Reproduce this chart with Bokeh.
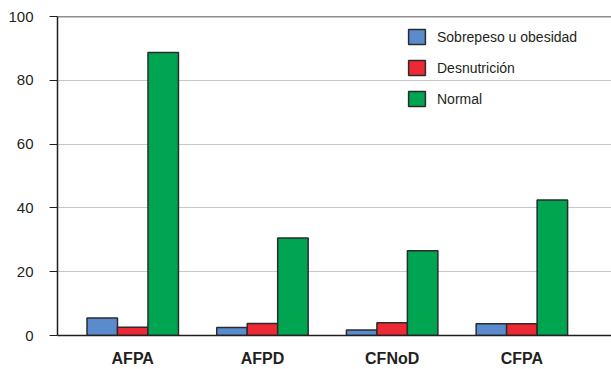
from bokeh.plotting import figure
from bokeh.models import Range1d, FixedTicker, Legend, LegendItem, Span, ColumnDataSource
from bokeh.embed import file_html
from bokeh.resources import INLINE

categories = ["AFPA", "AFPD", "CFNoD", "CFPA"]
series_names = ["Sobrepeso u obesidad", "Desnutrición", "Normal"]
sobrepeso = [5.5, 2.5, 1.7, 3.7]
desnutricion = [2.6, 3.8, 4.0, 3.7]
normal = [88.7, 30.6, 26.6, 42.5]
colors = ["#5a8ccd", "#ec2935", "#00a551"]
y_ticks = [0, 20, 40, 60, 80, 100]

FONT = "'Liberation Sans', Arial, sans-serif"
TXT = "#231f20"

p = figure(width=611, height=369, output_backend="svg", toolbar_location=None,
           x_range=Range1d(-0.580, 3.691), y_range=Range1d(0, 100),
           min_border_left=57, min_border_top=16, min_border_right=0, min_border_bottom=34)
p.outline_line_color = None
p.background_fill_color = "white"
p.border_fill_color = "white"

width = 0.235
offsets = [-width, 0.0, width]
xs = list(range(len(categories)))
renderers = []
for vals, off, col in zip([sobrepeso, desnutricion, normal], offsets, colors):
    src = ColumnDataSource(dict(x=[x + off for x in xs], top=vals))
    r = p.vbar(x="x", top="top", bottom=0, width=width, source=src,
               fill_color=col, line_color="#2b2b2b", line_width=1.5)
    renderers.append(r)

# axes
p.xaxis.ticker = FixedTicker(ticks=xs)
p.xaxis.major_label_overrides = {i: c for i, c in enumerate(categories)}
p.xaxis.major_tick_line_color = None
p.xaxis.minor_tick_line_color = None
p.xaxis.major_label_text_font = FONT
p.xaxis.major_label_text_font_size = "16px"
p.xaxis.major_label_text_font_style = "bold"
p.xaxis.major_label_text_color = TXT
p.xaxis.major_label_standoff = 8
p.xaxis.axis_line_color = "#231f20"
p.xaxis.axis_line_width = 1.5

p.yaxis.ticker = FixedTicker(ticks=y_ticks)
p.yaxis.minor_tick_line_color = None
p.yaxis.major_tick_in = 0
p.yaxis.major_tick_out = 8
p.yaxis.major_tick_line_color = "#231f20"
p.yaxis.major_tick_line_width = 1.2
p.yaxis.major_label_text_font = FONT
p.yaxis.major_label_text_font_size = "15px"
p.yaxis.major_label_text_color = TXT
p.yaxis.major_label_standoff = 16
p.yaxis.axis_line_color = "#231f20"
p.yaxis.axis_line_width = 1.5

p.xgrid.grid_line_color = None
p.ygrid.ticker = FixedTicker(ticks=[20, 40, 60, 80])
p.ygrid.grid_line_color = "#c8c8c8"
p.ygrid.grid_line_width = 1.2

p.add_layout(Span(location=100, dimension="width", line_color="#231f20", line_width=1.5))

legend = Legend(items=[LegendItem(label=n, renderers=[r]) for n, r in zip(series_names, renderers)],
                location=(349, 227), padding=0, spacing=12,
                glyph_width=21, glyph_height=19, label_height=19, label_standoff=10,
                label_text_font=FONT, label_text_font_size="14px", label_text_color=TXT,
                background_fill_alpha=0, border_line_alpha=0)
p.add_layout(legend)

open("out.html", "w").write(file_html(p, INLINE))
